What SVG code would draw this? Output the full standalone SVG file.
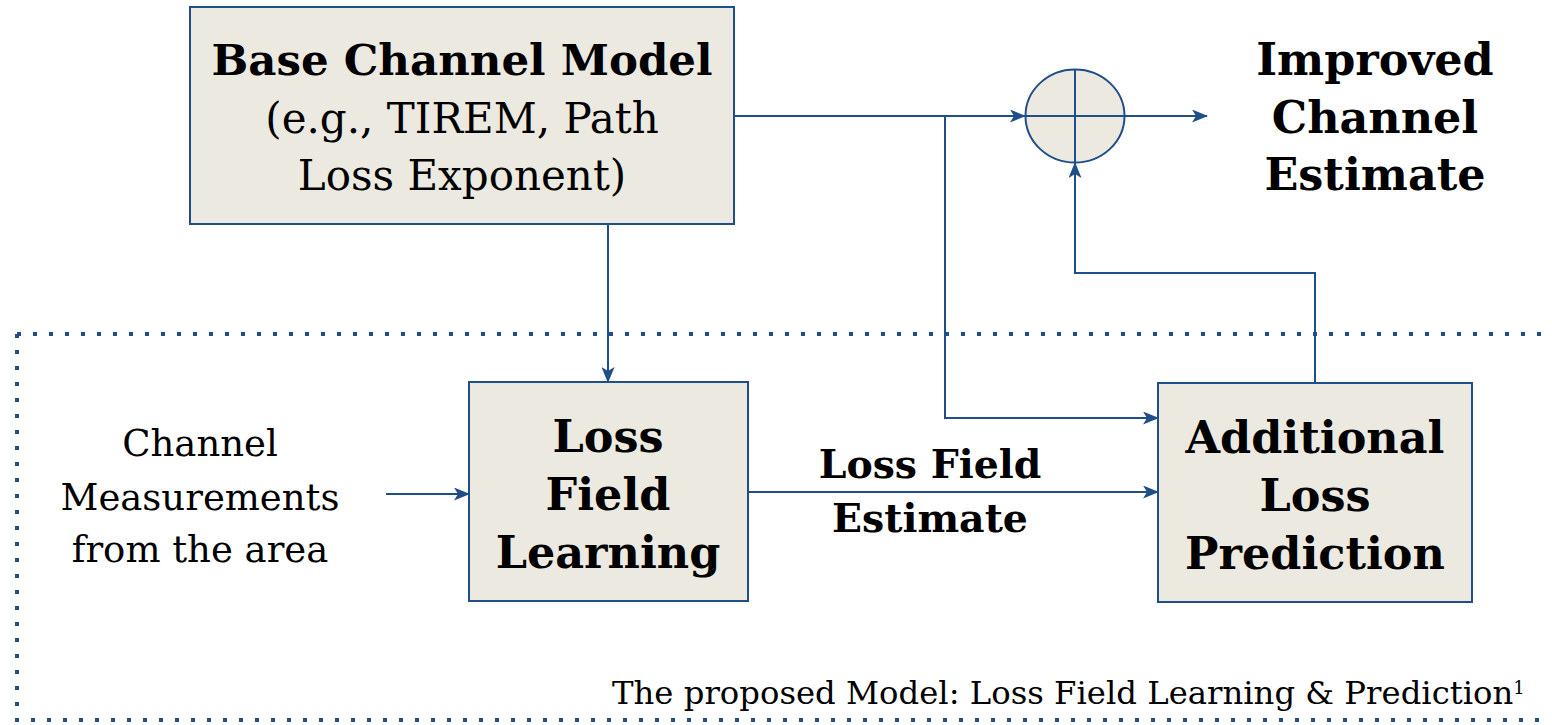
<svg xmlns="http://www.w3.org/2000/svg" width="1552" height="725" viewBox="0 0 1552 725">
<defs>
<marker id="ah" viewBox="0 0 16 13" refX="15" refY="6.5" markerWidth="16" markerHeight="13" markerUnits="userSpaceOnUse" orient="auto">
<path d="M0,0 L16,6.5 L0,13 L4,6.5 Z" fill="#1F4E89"/>
</marker>
<style>
.box{fill:#ECEAE0;stroke:#1F4E89;stroke-width:2}
.ln{fill:none;stroke:#1F4E89;stroke-width:2}
.b{font-family:"DejaVu Serif","Liberation Serif",serif;font-weight:bold;font-size:44.5px;fill:#000;text-anchor:middle}
.r{font-family:"DejaVu Serif","Liberation Serif",serif;font-size:42px;fill:#000;text-anchor:middle}
.dot{fill:none;stroke:#1F4E89;stroke-width:4;stroke-dasharray:4 12}
</style>
</defs>
<rect width="1552" height="725" fill="#fff"/>
<g id="border">
<path class="dot" d="M17,334 H1545 M17,334 V720 H1545"/>
</g>
<g id="connectors">
<path class="ln" d="M734,116 H1025" marker-end="url(#ah)"/>
<path class="ln" d="M1124,116 H1207" marker-end="url(#ah)"/>
<path class="ln" d="M608,224 V382" marker-end="url(#ah)"/>
<path class="ln" d="M945,116 V418 H1158" marker-end="url(#ah)"/>
<path class="ln" d="M748,492 H1158" marker-end="url(#ah)"/>
<path class="ln" d="M386,494 H469" marker-end="url(#ah)"/>
<path class="ln" d="M1315,383 V273 H1075 V163" marker-end="url(#ah)"/>
</g>
<g id="base">
<rect class="box" x="190" y="7" width="544" height="217"/>
<text class="b" x="462" y="75" style="font-size:43.5px">Base Channel Model</text>
<text class="r" x="462" y="133">(e.g., TIREM, Path</text>
<text class="r" x="462" y="190">Loss Exponent)</text>
</g>
<g id="sum">
<ellipse cx="1075" cy="116" rx="49.5" ry="46.5" fill="#ECEAE0" stroke="#1F4E89" stroke-width="2"/>
<path class="ln" d="M1075,69.5 V162.5 M1025.5,116 H1124.5"/>
</g>
<g id="improved">
<text class="b" x="1375" y="75">Improved</text>
<text class="b" x="1375" y="133">Channel</text>
<text class="b" x="1375" y="190">Estimate</text>
</g>
<g id="lfl">
<rect class="box" x="469" y="382" width="279" height="219"/>
<text class="b" x="608" y="452">Loss</text>
<text class="b" x="608" y="510">Field</text>
<text class="b" x="608" y="568">Learning</text>
</g>
<g id="alp">
<rect class="box" x="1158" y="383" width="314" height="219"/>
<text class="b" x="1315" y="453">Additional</text>
<text class="b" x="1315" y="511">Loss</text>
<text class="b" x="1315" y="569">Prediction</text>
</g>
<g id="cm">
<text class="r" x="200" y="456" style="font-size:37px">Channel</text>
<text class="r" x="200" y="510" style="font-size:37px">Measurements</text>
<text class="r" x="200" y="562" style="font-size:37px">from the area</text>
</g>
<g id="lfe">
<text class="b" x="930" y="478" style="font-size:39.4px">Loss Field</text>
<text class="b" x="930" y="532" style="font-size:39.4px">Estimate</text>
</g>
<g id="caption">
<text class="r" x="612" y="704" style="font-size:32.3px;text-anchor:start">The proposed Model: Loss Field Learning &amp; Prediction<tspan dy="-10" style="font-size:18px">1</tspan></text>
</g>
</svg>
